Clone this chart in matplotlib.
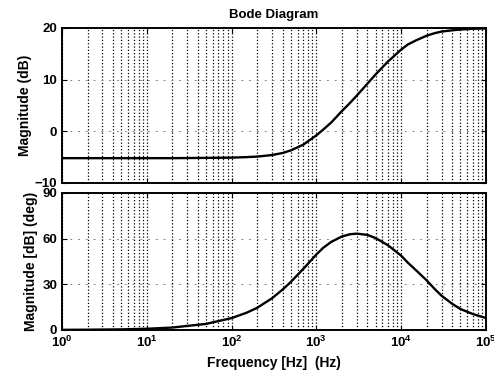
import matplotlib.pyplot as plt
import numpy as np

# frequency points (Hz) and the measured response of the lead network
freq = [1, 2, 5, 10, 20, 50, 100, 150, 200, 300, 400, 500, 700, 1000, 1200,
        1500, 2000, 2500, 3000, 4000, 5000, 7000, 10000, 12000, 15000, 20000,
        25000, 30000, 40000, 50000, 70000, 100000]
mag_db = [-5.2, -5.2, -5.2, -5.2, -5.2, -5.15, -5.1, -5.0, -4.9, -4.6, -4.2,
          -3.7, -2.6, -0.8, 0.3, 1.7, 3.9, 5.5, 6.9, 9.2, 11.0, 13.5, 15.8,
          16.8, 17.6, 18.5, 19.0, 19.3, 19.55, 19.7, 19.85, 19.9]
phase_deg = [0.1, 0.2, 0.4, 0.8, 1.6, 4.0, 7.8, 11.3, 14.5, 20.8, 26.5, 31.5,
             40.0, 49.5, 53.8, 57.8, 61.3, 62.8, 63.2, 62.4, 60.3, 55.6, 48.8,
             44.2, 39.2, 32.6, 26.8, 22.5, 17.2, 13.8, 10.5, 7.9]

mag_ticks = [-10, 0, 10, 20]
phase_ticks = [0, 30, 60, 90]

plt.rcParams['font.family'] = ['Liberation Sans', 'DejaVu Sans']
plt.rcParams['font.weight'] = 'bold'
plt.rcParams['mathtext.default'] = 'bf'

fig = plt.figure(figsize=(4.94, 3.78), dpi=100)
ax1 = fig.add_axes([0.1255, 0.516, 0.858, 0.410])
ax2 = fig.add_axes([0.1255, 0.127, 0.858, 0.363])

for ax in (ax1, ax2):
    ax.set_xscale('log')
    ax.set_xlim(1, 1e5)
    ax.grid(True, which='major', axis='x', color='black', linestyle=':', linewidth=0.9)
    ax.grid(True, which='minor', axis='x', color='black', linestyle=':', linewidth=0.9)
    ax.grid(True, which='major', axis='y', color='#888888', linestyle=(0, (2, 6)), linewidth=0.7)
    ax.tick_params(which='both', direction='in', top=True, right=True, labelsize=9.5, width=0.8)
    ax.tick_params(which='minor', length=0)
    for s in ax.spines.values():
        s.set_linewidth(1.4)

ax1.plot(freq, mag_db, color='black', linewidth=1.7)
ax1.set_ylim(-10, 20)
ax1.set_yticks(mag_ticks)
ax1.tick_params(labelbottom=False)
ax1.set_ylabel('Magnitude (dB)', fontsize=10, fontweight='bold', labelpad=2)
ax1.set_title('Bode Diagram', fontsize=9.5, fontweight='bold', pad=7)

ax2.plot(freq, phase_deg, color='black', linewidth=1.7)
ax2.set_ylim(0, 90)
ax2.set_yticks(phase_ticks)
ax2.set_xlabel('Frequency [Hz]  (Hz)', fontsize=10, fontweight='bold', labelpad=4)
ax2.set_ylabel('Magnitude [dB] (deg)', fontsize=10, fontweight='bold', labelpad=3)

fig.savefig('out.png', dpi=100)
